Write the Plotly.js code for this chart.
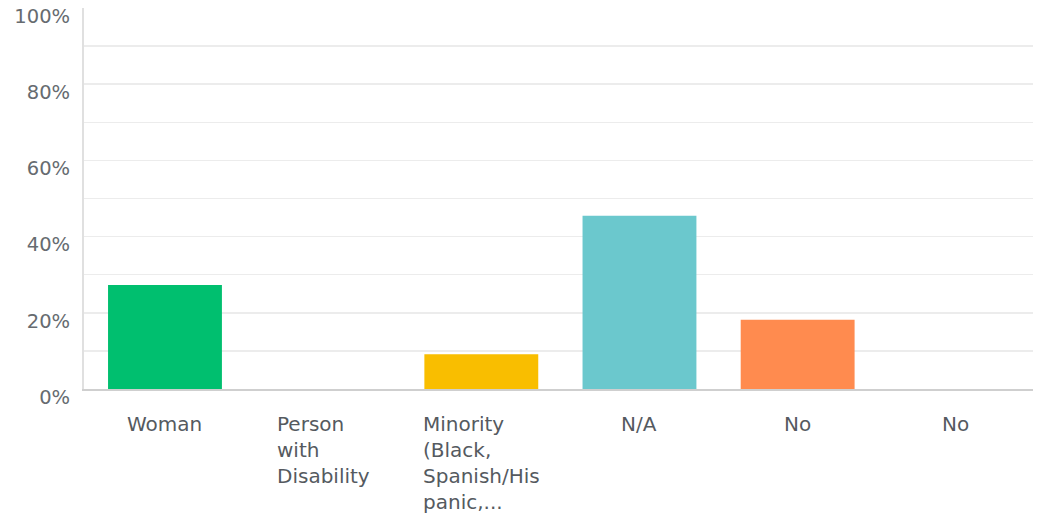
<!DOCTYPE html>
<html>
<head>
<meta charset="utf-8">
<script src="https://cdn.plot.ly/plotly-3.0.1.min.js"></script>
<style>html,body{margin:0;padding:0;background:#fff;}#chart{width:1038px;height:519px;}</style>
</head>
<body>
<div id="chart"></div>
<script>
// Data
const categories = ["Woman", "Person<br>with<br>Disability", "Minority<br>(Black,<br>Spanish/His<br>panic,...", "N/A", "No", "No"];
const percentages = [27.27, 0, 9.09, 45.45, 18.18, 0];
const barColors = ["#00BF6F", "#7E5BA8", "#F9BE00", "#6BC8CD", "#FF8B4F", "#507CB6"];
const yTickValues = [0, 20, 40, 60, 80, 100];
const yTickLabels = ["0%", "20%", "40%", "60%", "80%", "100%"];

const xs = categories.map((c, i) => i);
const fontFam = "DejaVu Sans, sans-serif";

const trace = {
  type: "bar",
  x: xs,
  y: percentages,
  width: 0.72,
  marker: { color: barColors, line: { width: 0 } },
  hoverinfo: "skip"
};

const annotations = categories.map((c, i) => ({
  x: i, xref: "x",
  y: 0, yref: "paper",
  yanchor: "top", xanchor: "center",
  yshift: -21,
  align: "left",
  text: c,
  showarrow: false,
  font: { family: fontFam, size: 20, color: "#555a5f" }
}));

const layout = {
  width: 1038, height: 519,
  margin: { l: 84, r: 5, t: 8, b: 130, pad: 0 },
  paper_bgcolor: "#ffffff",
  plot_bgcolor: "#ffffff",
  showlegend: false,
  xaxis: {
    type: "linear",
    range: [-0.512, 5.488],
    showticklabels: false,
    showgrid: false,
    zeroline: false,
    ticks: "",
    showline: true,
    linecolor: "#cfcfcf",
    linewidth: 2,
    fixedrange: true
  },
  yaxis: {
    range: [0, 100],
    tickvals: yTickValues,
    ticktext: yTickLabels,
    showgrid: true,
    gridcolor: "#ececec",
    gridwidth: 1.5,
    minor: { dtick: 10, tick0: 0, showgrid: true, gridcolor: "#ececec", gridwidth: 1.5 },
    zeroline: false,
    showline: true,
    linecolor: "#e0e0e0",
    linewidth: 2,
    ticks: "",
    ticklabelstandoff: 8,
    ticklabelshift: 8,
    tickfont: { family: fontFam, size: 19.5, color: "#666b70" },
    fixedrange: true
  },
  annotations: annotations
};

Plotly.newPlot("chart", [trace], layout, { displayModeBar: false, staticPlot: true });
</script>
</body>
</html>
